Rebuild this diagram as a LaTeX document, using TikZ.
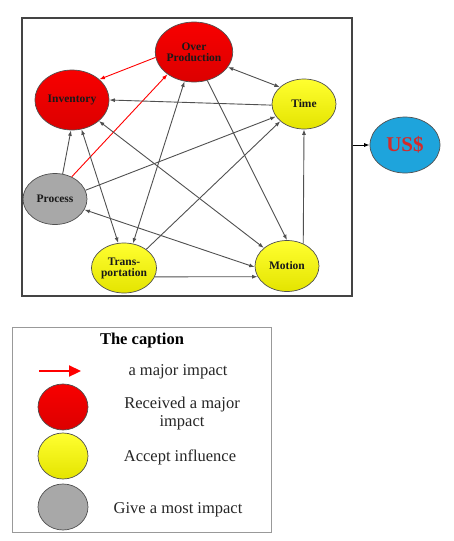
\documentclass[tikz,border=0pt]{standalone}
\usepackage{fontspec}
\setmainfont{Liberation Serif}
\usetikzlibrary{shapes.geometric,arrows.meta}
\definecolor{edgegray}{HTML}{505050}
\definecolor{redfill}{HTML}{F80000}
\definecolor{redbot}{HTML}{DC0000}
\definecolor{yeltop}{HTML}{FFFF30}
\definecolor{yelbot}{HTML}{E4E400}
\definecolor{grayfill}{HTML}{A8A8A8}
\definecolor{bluefill}{HTML}{1EA4DC}
\definecolor{usred}{HTML}{D42A2A}
\definecolor{framegray}{HTML}{444444}
\definecolor{leggray}{HTML}{999999}
\tikzset{
  waste/.style={ellipse, draw=edgegray, line width=0.7pt, inner sep=0pt, align=center,
    font=\bfseries\fontsize{11.5}{11}\selectfont, text=black!90},
  redw/.style={waste, top color=redfill, bottom color=redbot},
  yelw/.style={waste, top color=yeltop, bottom color=yelbot},
  grayw/.style={waste, fill=grayfill},
  conn/.style={draw=edgegray, line width=0.9pt, -{Latex[length=5.5pt,width=4pt]}},
  bconn/.style={draw=edgegray, line width=0.9pt, {Latex[length=5.5pt,width=4pt]}-{Latex[length=5.5pt,width=4pt]}},
  rconn/.style={draw=red, line width=0.9pt, -{Latex[length=5.5pt,width=4pt]}},
  legtext/.style={font=\fontsize{16.5}{18}\selectfont, text=black!85, align=center},
  legcirc/.style={ellipse, draw=edgegray, line width=0.7pt, minimum width=50pt, minimum height=46pt, inner sep=0pt}
}
\begin{document}
\begin{tikzpicture}[x=1pt,y=-1pt]
\useasboundingbox (0,0) rectangle (453,541);
% main frame
\node[draw=framegray, line width=1.2pt, minimum width=330pt, minimum height=278pt, inner sep=0pt] (frame) at (187,157) {};
% waste nodes
\node[redw, minimum width=76pt, minimum height=60pt] (op) at (194,52) {Over\\Production};
\node[redw, minimum width=74pt, minimum height=60pt] (inv) at (72,100) {Inventory};
\node[yelw, minimum width=64pt, minimum height=50pt] (time) at (304,104) {Time};
\node[grayw, minimum width=64pt, minimum height=51pt] (proc) at (55,199) {Process};
\node[yelw, minimum width=64pt, minimum height=50pt] (trans) at (124,268) {Trans-\\portation};
\node[yelw, minimum width=64pt, minimum height=51pt] (mot) at (287,266) {Motion};
\node[ellipse, draw=edgegray, line width=0.7pt, fill=bluefill, minimum width=70pt, minimum height=56pt, inner sep=0pt,
  text=usred, font=\bfseries\fontsize{21}{21}\selectfont] (us) at (405,145) {US\$};
% red connectors
\draw[rconn] (op.188) -- (inv.37);
\draw[rconn] (proc.53) -- (op.220);
% gray connectors
\draw[conn] (proc.73) -- (inv.268);
\draw[conn] (time.182) -- (inv.0);
\draw[bconn] (op.336) -- (time.145);
\draw[conn] (proc.16) -- (time.204);
\draw[conn] (trans.40) -- (time.216);
\draw[conn] (mot.54) -- (time.270);
\draw[conn] (trans.344) -- (mot.200);
\draw[bconn] (inv.322) -- (mot.142);
\draw[bconn] (inv.288) -- (trans.103);
\draw[bconn] (op.252) -- (trans.70);
\draw[conn] (op.295) -- (mot.90);
\draw[bconn] (proc.340) -- (mot.182);
% frame to US$
\draw[draw=black, line width=0.9pt, -{Latex[length=5.5pt,width=4pt]}] (frame.east |- us.west) -- (us.west);
% legend
\node[draw=leggray, line width=0.9pt, fill=white, minimum width=259pt, minimum height=205pt, inner sep=0pt] (legend) at (141.5,429.5) {};
\node[legtext, font=\bfseries\fontsize{16.5}{18}\selectfont, text=black] (legtitle) at (142,341) {The caption};
\coordinate (la) at (39,371);
\coordinate (lb) at (81,371);
\draw[draw=red, line width=2.3pt, -{Triangle[length=12pt,width=11pt]}] (la) -- (lb);
\node[legtext] (t1) at (178,372) {a major impact};
\node[legcirc, top color=redfill, bottom color=redbot] (c1) at (63,407) {};
\node[legtext] (t2) at (182,414) {Received a major\\impact};
\node[legcirc, top color=yeltop, bottom color=yelbot] (c2) at (63,456) {};
\node[legtext] (t3) at (180,457) {Accept influence};
\node[legcirc, fill=grayfill] (c3) at (63,507) {};
\node[legtext] (t4) at (178,510) {Give a most impact};
\end{tikzpicture}
\end{document}
